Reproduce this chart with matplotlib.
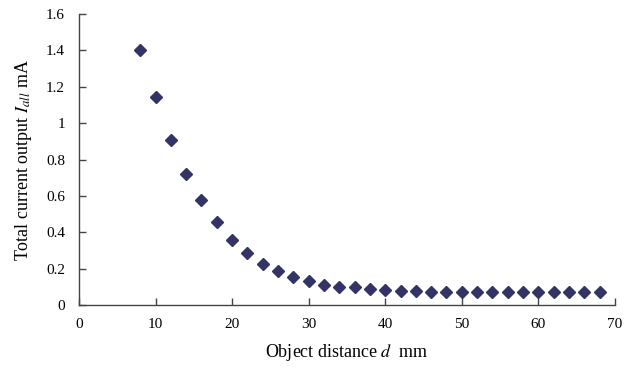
import numpy as np
import matplotlib
matplotlib.use("Agg")
import matplotlib.pyplot as plt

# data
distance = [8, 10, 12, 14, 16, 18, 20, 22, 24, 26, 28, 30, 32, 34, 36, 38,
            40, 42, 44, 46, 48, 50, 52, 54, 56, 58, 60, 62, 64, 66, 68]
current = [1.40, 1.145, 0.91, 0.72, 0.575, 0.455, 0.36, 0.285, 0.228, 0.186,
           0.153, 0.13, 0.11, 0.098, 0.099, 0.088, 0.082, 0.079, 0.077, 0.074,
           0.074, 0.073, 0.073, 0.073, 0.073, 0.073, 0.073, 0.073, 0.073,
           0.073, 0.073]
xticks = [0, 10, 20, 30, 40, 50, 60, 70]
yticks = [0, 0.2, 0.4, 0.6, 0.8, 1.0, 1.2, 1.4, 1.6]
ytick_labels = ["0", "0.2", "0.4", "0.6", "0.8", "1", "1.2", "1.4", "1.6"]

plt.rcParams['font.family'] = ['Liberation Serif', 'DejaVu Serif']
plt.rcParams['mathtext.fontset'] = 'stix'

fig = plt.figure(figsize=(6.44, 3.79), dpi=100)
ax = fig.add_axes([0.1227, 0.195, 0.832, 0.768])

ax.plot(distance, current, linestyle='none', marker='D', markersize=5.8,
        color='#333366', markeredgecolor='#333366')

ax.set_xlim(0, 70)
ax.set_ylim(0, 1.6)
ax.set_xticks(xticks)
ax.set_yticks(yticks)
ax.set_yticklabels(ytick_labels)

for side in ['top', 'right']:
    ax.spines[side].set_visible(False)
for side in ['left', 'bottom']:
    ax.spines[side].set_color('#444444')
    ax.spines[side].set_linewidth(1.0)
ax.tick_params(direction='in', length=5, width=1.0, color='#444444',
               labelsize=11)
ax.tick_params(axis='y', pad=10)
ax.tick_params(axis='x', pad=9)

ax.set_xlabel(r"Object distance $d$  mm", fontsize=13, labelpad=8)
ax.set_ylabel(r"Total current output $I_{all}$ mA", fontsize=13, labelpad=9)

fig.savefig("out.png", dpi=100)
